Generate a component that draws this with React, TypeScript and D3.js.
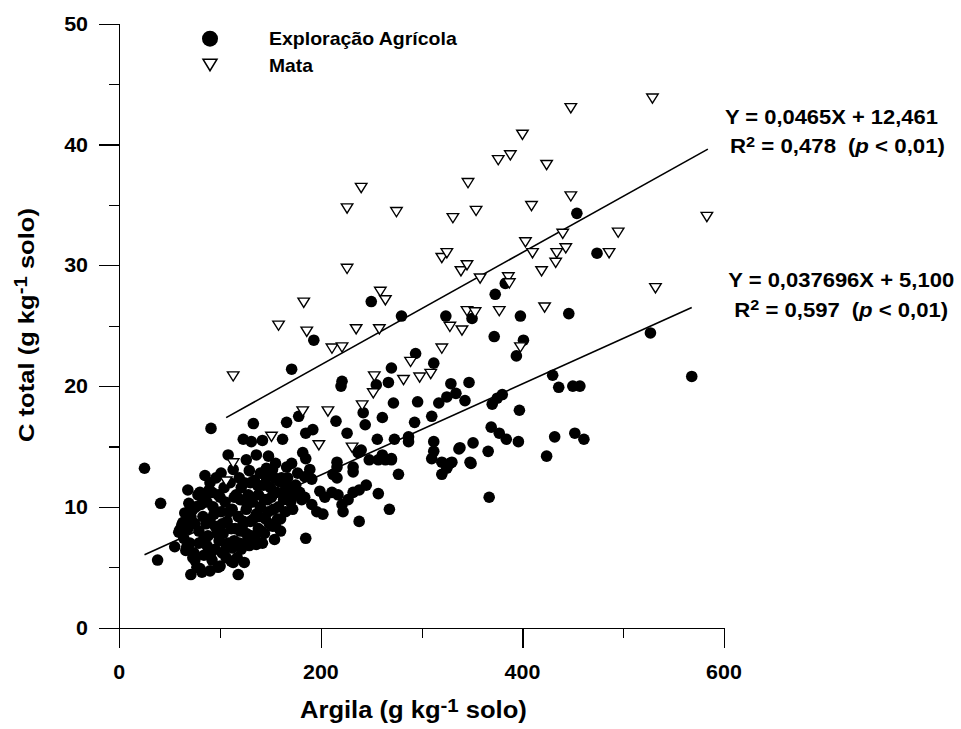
import React, { useEffect, useRef } from "react";
import * as d3 from "d3";

// ---------- data ----------
const xMajorTicks = [0, 200, 400, 600];
const xMinorTicks = [100, 300, 500];
const yMajorTicks = [0, 10, 20, 30, 40, 50];
const yMinorTicks = [5, 15, 25, 35, 45];

// Exploração Agrícola: [Argila, C total]
const agricola: [number, number][] = [
  [454, 34.3], [474, 31.0], [383, 28.5], [373, 27.6], [398, 25.8], [446, 26.0], [372, 24.1], [401, 23.8],
  [394, 22.5], [527, 24.4], [568, 20.8], [430, 20.9], [436, 19.9], [450, 20.0], [457, 20.0], [370, 18.5],
  [375, 19.0], [380, 19.3], [397, 18.0], [369, 16.6], [377, 16.1], [384, 15.6], [396, 15.4], [432, 15.8],
  [452, 16.1], [461, 15.6], [366, 14.6], [424, 14.2], [367, 10.8],
  [250, 27.0], [193, 23.8], [280, 25.8], [324, 25.8], [350, 25.6], [171, 21.4], [221, 20.4], [220, 20.0],
  [255, 20.1], [270, 21.5], [267, 20.3], [294, 22.7], [312, 21.9], [329, 20.2], [347, 20.3], [334, 19.4],
  [325, 19.1], [317, 18.6], [343, 18.8], [272, 18.6], [296, 18.7], [310, 17.5], [293, 17.0], [273, 15.6],
  [287, 15.8], [287, 15.4], [312, 15.4], [312, 14.6], [310, 14.0], [320, 13.7], [328, 13.6], [325, 13.2],
  [320, 12.7], [337, 14.8], [351, 15.3], [349, 13.6], [270, 13.9], [277, 12.7],
  [91, 16.5], [133, 16.9], [123, 15.6], [131, 15.4], [142, 15.5],
  [25, 13.2], [41, 10.3], [38, 5.6], [55, 6.7], [66, 6.4], [62, 8.5], [59, 7.9], [68, 11.4], [80, 11.2],
  [71, 4.4], [80, 4.9], [90, 4.7], [100, 5.1], [118, 4.4], [124, 5.4], [113, 5.4], [75, 5.6], [96, 12.4],
  [108, 14.3], [136, 14.3], [126, 13.9], [166, 17.0], [162, 15.6], [178, 17.5], [185, 16.1], [192, 16.4],
  [166, 13.3], [171, 13.6], [182, 14.5], [185, 14.0], [189, 13.1], [184, 12.5], [191, 12.3], [185, 7.4],
  [154, 7.3], [169, 11.6], [179, 11.2], [184, 10.8], [181, 10.6], [191, 10.2], [196, 9.6], [202, 9.4],
  [199, 11.3], [204, 10.8], [211, 11.2], [217, 11.0], [215, 17.1], [226, 16.1], [216, 13.7], [216, 13.3],
  [212, 12.7], [216, 12.4], [221, 10.2], [222, 9.6], [227, 10.6], [232, 11.2], [238, 11.4], [245, 11.8],
  [238, 8.8], [232, 13.3], [232, 12.9], [237, 14.5], [242, 17.8], [244, 16.8], [256, 15.6], [261, 17.4],
  [257, 13.9], [264, 13.9], [270, 14.0], [261, 14.3], [257, 11.1], [268, 9.8], [240, 14.7], [248, 13.9],
  [146, 13.2], [152, 13.1], [159, 12.1], [166, 11.7], [161, 12.4],
  [90, 12.0], [92, 11.2], [87, 10.4], [73, 9.8], [63, 8.7], [60, 8.1], [67, 6.7], [73, 5.8], [77, 5.0],
  [82, 4.6], [98, 5.0], [111, 5.5], [121, 6.5], [129, 6.8], [136, 6.9], [126, 7.8],
  [65, 9.5], [69, 10.3], [72, 8.8], [76, 10.0], [79, 8.0], [83, 9.2], [85, 10.8], [88, 7.6], [90, 9.0],
  [93, 10.0], [95, 8.4], [98, 11.0], [101, 9.6], [103, 7.8], [105, 10.4], [107, 8.8], [110, 12.0],
  [112, 9.8], [114, 7.2], [116, 11.0], [118, 9.2], [120, 10.6], [122, 8.4], [124, 12.0], [126, 9.8],
  [128, 11.0], [130, 8.8], [132, 10.4], [134, 12.2], [136, 9.4], [138, 11.0], [140, 10.0], [143, 11.8],
  [145, 9.0], [147, 10.6], [150, 11.6], [153, 9.8], [156, 11.2], [158, 10.0], [160, 9.0], [163, 10.6],
  [165, 9.6], [168, 10.8], [172, 9.8], [175, 11.8], [177, 12.8],
  [70, 7.0], [74, 6.2], [79, 7.0], [84, 6.0], [87, 6.8], [92, 5.6], [95, 6.5], [99, 7.2], [102, 6.2],
  [106, 5.8], [108, 7.0], [112, 6.6], [115, 8.2], [119, 7.0], [123, 8.8], [131, 7.6], [138, 8.2],
  [144, 7.8], [149, 8.6], [155, 8.4], [160, 8.0], [142, 7.0], [152, 8.4],
  [85, 12.6], [101, 12.8], [113, 13.1], [119, 12.4], [129, 13.0], [140, 12.8], [148, 14.2], [155, 13.6],
  [330, 13.7], [338, 14.9], [348, 13.7],
  [64, 7.4], [68, 8.2], [71, 9.2], [75, 8.6], [78, 11.0], [81, 10.2], [84, 7.4], [86, 8.6], [89, 11.4],
  [91, 6.2], [94, 9.4], [97, 7.8], [100, 10.8], [102, 8.6], [104, 11.6], [106, 6.6], [109, 9.6], [111, 8.2],
  [114, 10.8], [117, 5.8], [120, 8.0], [121, 11.6], [125, 7.0], [127, 10.2], [130, 12.0], [133, 9.0],
  [135, 7.6], [137, 11.8], [139, 9.2], [141, 8.0], [144, 10.6], [146, 12.4], [148, 9.6], [151, 10.8],
  [154, 12.4], [157, 9.0], [162, 11.2], [167, 12.4], [170, 10.4], [174, 11.0],
];

// Mata: [Argila, C total]
const mata: [number, number][] = [
  [529, 43.8], [448, 43.0], [400, 40.8], [388, 39.1], [376, 38.7], [424, 38.3], [346, 36.8], [240, 36.4],
  [226, 34.7], [275, 34.4], [331, 33.9], [354, 34.5], [409, 34.9], [448, 35.7], [583, 34.0], [495, 32.7],
  [440, 32.6], [403, 31.9], [410, 31.0], [443, 31.4], [434, 31.0], [433, 30.2], [486, 31.0], [419, 29.5],
  [320, 30.6], [325, 31.0], [339, 29.5], [345, 30.0], [358, 28.9], [386, 29.0], [387, 28.5], [532, 28.1],
  [226, 29.7], [259, 27.8], [264, 27.1], [183, 26.9], [158, 25.0], [186, 24.5], [235, 24.7], [258, 24.7],
  [211, 23.1], [221, 23.2], [345, 26.2], [353, 26.1], [377, 26.2], [328, 24.9], [340, 24.6], [422, 26.5],
  [398, 23.2], [320, 23.1], [289, 22.0], [282, 20.5], [298, 20.7], [309, 21.0], [253, 20.8], [252, 19.4],
  [241, 18.4], [113, 20.8], [113, 13.6], [106, 12.1], [151, 15.8], [182, 17.9], [207, 17.9], [198, 15.1],
  [231, 14.9],
];

// regression lines: [slope, intercept, xStart, xEnd]
const fitMata = [0.0465, 12.461, 106, 584];
const fitAgricola = [0.037696, 5.1, 25, 568];

const legendLabels = ["Exploração Agrícola", "Mata"];

const FONT = "'Liberation Sans', Arial, Helvetica, sans-serif";

type Part = { t: string; sup?: boolean; italic?: boolean; dx?: number };

export default function App() {
  const ref = useRef<SVGSVGElement>(null);

  useEffect(() => {
    const svg = d3.select(ref.current as SVGSVGElement);
    svg.selectAll("*").remove();

    const x = d3.scaleLinear().domain([0, 600]).range([119.3, 724]);
    const y = d3.scaleLinear().domain([0, 50]).range([627.7, 23.7]);

    const label = (
      parent: any,
      o: {
        x: number; y: number; rot?: number; size: number; anchor: string; parts: Part[];
        sx?: number; width?: number; supSize?: number; rise?: number;
      }
    ) => {
      const g = parent
        .append("g")
        .attr("transform", `translate(${o.x},${o.y})${o.rot ? ` rotate(${o.rot})` : ""}`);
      const t = g
        .append("text")
        .attr("font-family", FONT)
        .attr("font-weight", "bold")
        .attr("font-size", o.size)
        .attr("text-anchor", o.anchor)
        .attr("fill", "#000");
      let cur = 0;
      const rise = o.rise ?? o.size * 0.3;
      o.parts.forEach((p) => {
        const ts = t.append("tspan").text(p.t);
        const want = p.sup ? -rise : 0;
        if (want !== cur) ts.attr("dy", want - cur);
        cur = want;
        if (p.sup) ts.attr("font-size", o.supSize ?? o.size * 0.8);
        if (p.italic) ts.attr("font-style", "italic");
        if (p.dx) ts.attr("dx", p.dx);
      });
      const w = (t.node() as SVGTextElement).getBBox().width;
      const sx = o.width ? o.width / w : o.sx ?? 1;
      t.attr("transform", `scale(${sx},1)`);
    };

    // axes
    const axisG = svg.append("g");
    const yMaj = d3.axisLeft(y).tickValues(yMajorTicks).tickSize(20).tickSizeOuter(0).tickFormat(() => "");
    const yMin = d3.axisLeft(y).tickValues(yMinorTicks).tickSize(10).tickSizeOuter(0).tickFormat(() => "");
    const xMaj = d3.axisBottom(x).tickValues(xMajorTicks).tickSize(20).tickSizeOuter(0).tickFormat(() => "");
    const xMin = d3.axisBottom(x).tickValues(xMinorTicks).tickSize(10).tickSizeOuter(0).tickFormat(() => "");
    axisG.append("g").attr("transform", `translate(${x(0)},0)`).call(yMaj);
    axisG.append("g").attr("transform", `translate(${x(0)},0)`).call(yMin).select(".domain").remove();
    axisG.append("g").attr("transform", `translate(0,${y(0)})`).call(xMaj);
    axisG.append("g").attr("transform", `translate(0,${y(0)})`).call(xMin).select(".domain").remove();
    axisG.selectAll("path, line").attr("stroke", "#000").attr("stroke-width", 1.2).attr("shape-rendering", "crispEdges");

    // tick labels
    yMajorTicks.forEach((v) =>
      label(svg, { x: 88, y: y(v) + 7, size: 19.5, anchor: "end", parts: [{ t: String(v) }], sx: 1.1 })
    );
    xMajorTicks.forEach((v) =>
      label(svg, { x: x(v), y: 679.3, size: 19.5, anchor: "middle", parts: [{ t: String(v) }], sx: 1.1 })
    );

    // axis titles
    label(svg, {
      x: 300, y: 718.3, size: 23, anchor: "start", width: 227, rise: 6.7,
      parts: [{ t: "Argila (g kg" }, { t: "-1", sup: true }, { t: " solo)" }],
    });
    label(svg, {
      x: 33.5, y: 325, rot: -90, size: 22.5, anchor: "middle", width: 234, rise: 6.6,
      parts: [{ t: "C total (g kg" }, { t: "-1", sup: true }, { t: " solo)" }],
    });

    // regression lines
    const seg = d3.line<[number, number]>().x((d) => x(d[0])).y((d) => y(d[1]));
    [fitMata, fitAgricola].forEach(([a, b, x0, x1]) => {
      svg
        .append("path")
        .attr("d", seg([
          [x0, a * x0 + b],
          [x1, a * x1 + b],
        ]))
        .attr("stroke", "#000")
        .attr("stroke-width", 1.6)
        .attr("fill", "none");
    });

    const tri = (cx: number, cy: number, w: number, h: number) =>
      `M${cx - w / 2},${cy - h / 2}L${cx + w / 2},${cy - h / 2}L${cx},${cy + h / 2}Z`;

    // points
    svg
      .append("g")
      .selectAll("circle")
      .data(agricola)
      .join("circle")
      .attr("cx", (d) => x(d[0]))
      .attr("cy", (d) => y(d[1]))
      .attr("r", 5.8)
      .attr("fill", "#000");

    svg
      .append("g")
      .selectAll("path")
      .data(mata)
      .join("path")
      .attr("d", (d) => tri(x(d[0]), y(d[1]), 11.5, 9.2))
      .attr("fill", "#fff")
      .attr("stroke", "#000")
      .attr("stroke-width", 1.4)
      .attr("stroke-linejoin", "miter");

    // legend
    svg.append("circle").attr("cx", 210).attr("cy", 38.7).attr("r", 8).attr("fill", "#000");
    svg.append("path").attr("d", tri(210, 65, 14, 11.5)).attr("fill", "#fff").attr("stroke", "#000").attr("stroke-width", 1.5);
    label(svg, { x: 269, y: 45, size: 17.7, anchor: "start", parts: [{ t: legendLabels[0] }], width: 188 });
    label(svg, { x: 269, y: 71.7, size: 17.7, anchor: "start", parts: [{ t: legendLabels[1] }], width: 44 });

    // equations
    label(svg, {
      x: 725, y: 124, size: 20.5, anchor: "start", width: 213,
      parts: [{ t: "Y = 0,0465X + 12,461" }],
    });
    label(svg, {
      x: 730, y: 153.3, size: 20.5, anchor: "start", width: 215, supSize: 15, rise: 6.6,
      parts: [{ t: "R" }, { t: "2", sup: true }, { t: " = 0,478" }, { t: "(", dx: 11 }, { t: "p", italic: true }, { t: " < 0,01)" }],
    });
    label(svg, {
      x: 728.3, y: 287.3, size: 20.5, anchor: "start", width: 226,
      parts: [{ t: "Y = 0,037696X + 5,100" }],
    });
    label(svg, {
      x: 734.3, y: 316.7, size: 20.5, anchor: "start", width: 214, supSize: 15, rise: 6.6,
      parts: [{ t: "R" }, { t: "2", sup: true }, { t: " = 0,597" }, { t: "(", dx: 11 }, { t: "p", italic: true }, { t: " < 0,01)" }],
    });
  }, []);

  return (
    <svg
      ref={ref}
      width={961}
      height={729}
      style={{ position: "absolute", left: 0, top: 0, background: "#fff" }}
    />
  );
}
